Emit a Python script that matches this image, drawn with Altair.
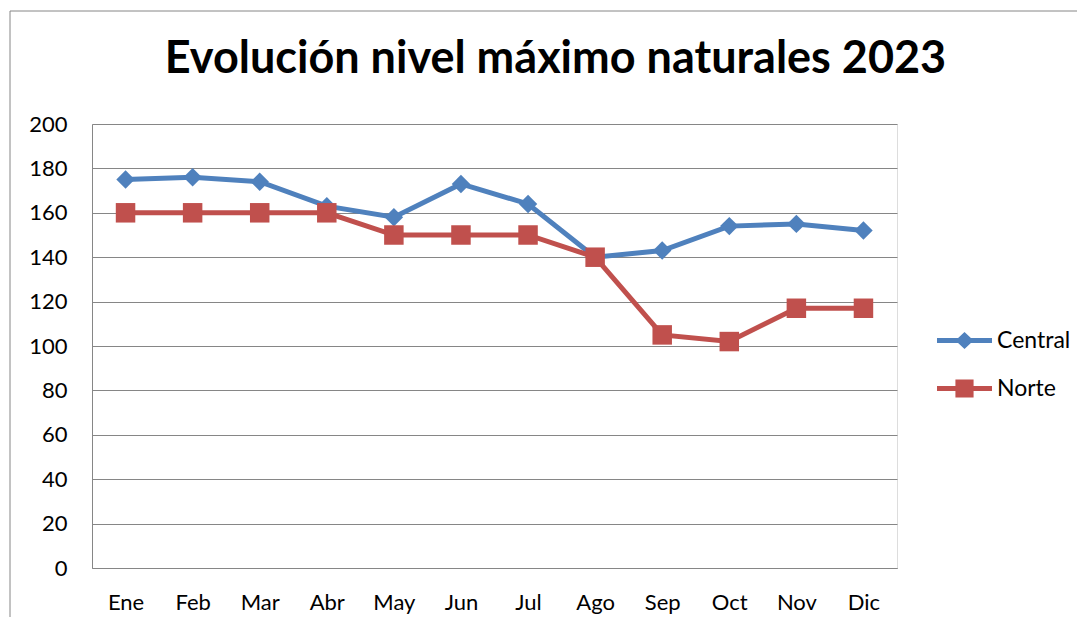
import altair as alt
import pandas as pd

months = ["Ene", "Feb", "Mar", "Abr", "May", "Jun", "Jul", "Ago", "Sep", "Oct", "Nov", "Dic"]
central = [175, 176, 174, 163, 158, 173, 164, 140, 143, 154, 155, 152]
norte = [160, 160, 160, 160, 150, 150, 150, 140, 105, 102, 117, 117]
series = ["Central", "Norte"]
colors = ["#4F81BD", "#C0504D"]
marker_shapes = ["diamond", "square"]
y_ticks = list(range(0, 201, 20))
title_text = "Evolución nivel máximo naturales 2023"

# legend symbols: line with marker (custom SVG paths)
legend_paths = [
    "M-1,-0.09L1,-0.09L1,0.09L-1,0.09Z M0,-0.31L0.33,0L0,0.31L-0.33,0Z",
    "M-1,-0.09L1,-0.09L1,0.09L-1,0.09Z M-0.33,-0.33L0.33,-0.33L0.33,0.33L-0.33,0.33Z",
]

df = pd.DataFrame({
    "mes": months * 2,
    "valor": central + norte,
    "serie": [series[0]] * len(months) + [series[1]] * len(months),
})

FONT = "Lato"
GRAY = "#868686"

x_enc = alt.X("mes:N", sort=months, scale=alt.Scale(type="point", padding=0.5),
              axis=alt.Axis(title=None, labelAngle=0, ticks=False, grid=False,
                            domainColor=GRAY, labelFontSize=22, labelFont=FONT,
                            labelColor="black", labelPadding=24))
y_enc = alt.Y("valor:Q", scale=alt.Scale(domain=[0, 200], nice=False),
              axis=alt.Axis(title=None, values=y_ticks, ticks=False, grid=True,
                            gridColor=GRAY, domainColor=GRAY, labelFontSize=22,
                            labelFont=FONT, labelColor="black", labelPadding=25))

layers = []
for s, c, shp in zip(series, colors, marker_shapes):
    base = alt.Chart(df).transform_filter(alt.datum.serie == s)
    layers.append(base.mark_line(color=c, strokeWidth=5).encode(x=x_enc, y=y_enc))
    layers.append(base.mark_point(color=c, filled=True, opacity=1, shape=shp,
                                  size=340 if shp == "diamond" else 380)
                  .encode(x=x_enc, y=y_enc))

legend_layer = alt.Chart(df).mark_point(filled=True, opacity=0).encode(
    x=x_enc, y=y_enc,
    color=alt.Color("serie:N", scale=alt.Scale(domain=series, range=colors),
                    legend=alt.Legend(title=None, orient="none", legendX=845, legendY=189,
                                      symbolSize=3025, symbolStrokeWidth=0, symbolOpacity=1,
                                      labelFontSize=23, labelFont=FONT, labelColor="black",
                                      labelOffset=5, rowPadding=8, padding=0)),
    shape=alt.Shape("serie:N", scale=alt.Scale(domain=series, range=legend_paths), legend=None),
)
layers.append(legend_layer)

frame_df = pd.DataFrame({"k": [0]})
frame_left = alt.Chart(frame_df).mark_rule(color=GRAY, strokeWidth=1).encode(
    x=alt.value(-82), y=alt.value(-113), y2=alt.value(600))
frame_top = alt.Chart(frame_df).mark_rule(color=GRAY, strokeWidth=1).encode(
    x=alt.value(-82), x2=alt.value(1100), y=alt.value(-113))
layers = [frame_left, frame_top] + layers

chart = alt.layer(*layers).properties(
    width=805, height=444,
    title=alt.TitleParams(title_text, fontSize=45, font=FONT, fontWeight="bold",
                          anchor="middle", dx=61, offset=-107, baseline="alphabetic",
                          color="black"),
    autosize=alt.AutoSizeParams(type="none"),
    padding={"left": 84, "top": 116, "right": 180, "bottom": 49},
).configure_view(stroke=None).configure(background="white")

chart.save("out.html", embed_options={"renderer": "svg", "actions": False})
